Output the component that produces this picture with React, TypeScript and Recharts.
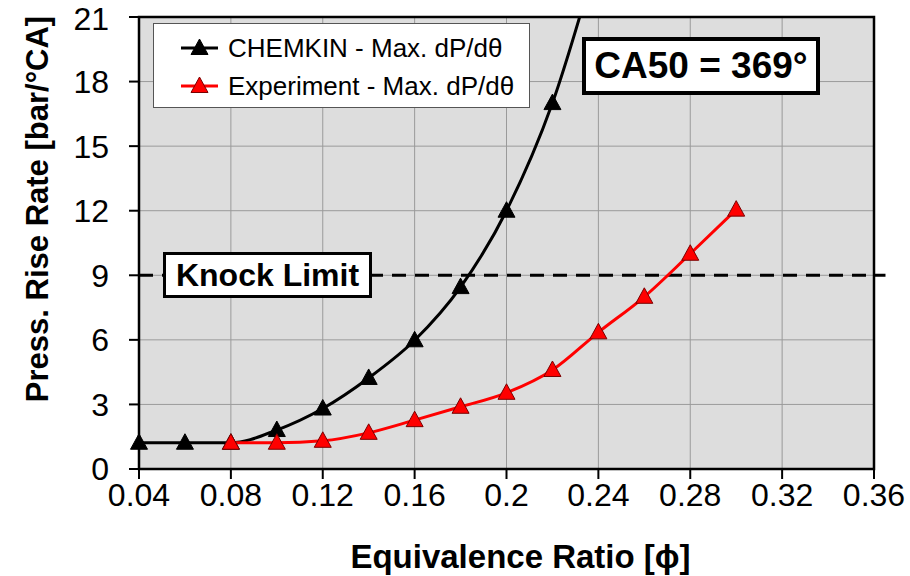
import {
  ComposedChart,
  Line,
  XAxis,
  YAxis,
  CartesianGrid,
  ReferenceLine,
  ReferenceArea,
} from "recharts";

const FONT = '"Liberation Sans", Arial, Helvetica, sans-serif';

// equivalence ratio sample points
const phiValues = [0.04, 0.06, 0.08, 0.1, 0.12, 0.14, 0.16, 0.18, 0.2, 0.22, 0.24, 0.26, 0.28, 0.3];

// max. pressure rise rate [bar/°CA]; null where the series has no point
const chemkinRate = [1.22, 1.22, 1.22, 1.81, 2.81, 4.23, 5.98, 8.45, 12.0, 17.0, 24.0, null, null, null];
const experimentRate = [null, null, 1.22, 1.22, 1.31, 1.68, 2.27, 2.89, 3.54, 4.6, 6.35, 8.0, 10.0, 12.05];

const xTicks = [0.04, 0.08, 0.12, 0.16, 0.2, 0.24, 0.28, 0.32, 0.36];
const yTicks = [0, 3, 6, 9, 12, 15, 18, 21];

const knockLimit = 9;
const seriesNames = ["CHEMKIN - Max. dP/dθ", "Experiment - Max. dP/dθ"];
const seriesColors = ["#000000", "#ff0000"];
const markerStrokes = ["#000000", "#7a0000"];

const data = phiValues.map((phi, i) => ({
  phi,
  chemkin: chemkinRate[i] ?? undefined,
  experiment: experimentRate[i] ?? undefined,
}));

const YMAX = 21;

function triangle(fill: string, stroke: string) {
  return (props: any) => {
    const { cx, cy, index, value } = props;
    if (cx == null || cy == null || value == null || value > YMAX) return <g key={index} />;
    return (
      <polygon
        key={index}
        points={`${cx},${cy - 9} ${cx - 8.5},${cy + 6.5} ${cx + 8.5},${cy + 6.5}`}
        fill={fill}
        stroke={stroke}
        strokeWidth={1}
      />
    );
  };
}

function YTitle(props: any) {
  const { viewBox } = props;
  const x = viewBox.x + 37;
  const y = viewBox.y + 192;
  return (
    <text
      x={x}
      y={y}
      transform={`rotate(-90 ${x} ${y})`}
      textAnchor="middle"
      dominantBaseline="central"
      fontFamily={FONT}
      fontWeight="bold"
      fontSize={31}
      fill="#000"
    >
      Press. Rise Rate [bar/°CA]
    </text>
  );
}

function XTitle(props: any) {
  const { viewBox } = props;
  return (
    <text
      x={viewBox.x + viewBox.width / 2 + 14}
      y={viewBox.y + 99}
      textAnchor="middle"
      fontFamily={FONT}
      fontWeight="bold"
      fontSize={33}
      fill="#000"
    >
      Equivalence Ratio [ϕ]
    </text>
  );
}

function LegendBox() {
  return (
    <div
      style={{
        position: "absolute",
        left: 153,
        top: 23,
        width: 377,
        height: 85,
        boxSizing: "border-box",
        background: "#fff",
        border: "1px solid #555",
        fontFamily: FONT,
        fontSize: 26,
        color: "#000",
      }}
    >
      {seriesNames.map((name, i) => (
        <div
          key={name}
          style={{ position: "absolute", left: 26, top: 9 + i * 38, height: 30, display: "flex", alignItems: "center" }}
        >
          <svg width={40} height={30} style={{ marginRight: 8 }}>
            <line x1={1} y1={15} x2={38} y2={15} stroke={seriesColors[i]} strokeWidth={3} />
            <polygon points="19.5,6 11,21.5 28,21.5" fill={seriesColors[i]} stroke={markerStrokes[i]} strokeWidth={1} />
          </svg>
          <span style={{ whiteSpace: "nowrap" }}>{name}</span>
        </div>
      ))}
    </div>
  );
}

function NoteBox(props: { left: number; top: number; width: number; height: number; border: number; size: number; text: string }) {
  const { left, top, width, height, border, size, text } = props;
  return (
    <div
      style={{
        position: "absolute",
        left,
        top,
        width,
        height,
        boxSizing: "border-box",
        background: "#fff",
        border: `${border}px solid #000`,
        fontFamily: FONT,
        fontWeight: "bold",
        fontSize: size,
        color: "#000",
        display: "flex",
        alignItems: "center",
        justifyContent: "center",
        whiteSpace: "nowrap",
      }}
    >
      {text}
    </div>
  );
}

export default function App() {
  return (
    <div style={{ position: "absolute", left: 0, top: 0, width: 910, height: 576, background: "#fff" }}>
      <ComposedChart
        width={910}
        height={576}
        data={data}
        margin={{ top: 17, right: 36, bottom: 0, left: 0 }}
      >
        <CartesianGrid fill="#dddddd" stroke="#9a9a9a" strokeWidth={1} />
        <XAxis
          dataKey="phi"
          type="number"
          domain={[0.04, 0.36]}
          ticks={xTicks}
          height={107}
          axisLine={false}
          tickSize={10}
          tickMargin={4}
          tickLine={{ stroke: "#000", strokeWidth: 2 }}
          tick={{ fontSize: 32, fill: "#000", fontFamily: FONT }}
          tickFormatter={(v: number) => String(Number(v.toFixed(2)))}
          label={<XTitle />}
        />
        <YAxis
          type="number"
          domain={[0, YMAX]}
          ticks={yTicks}
          allowDataOverflow
          width={139}
          axisLine={false}
          tickSize={10}
          tickMargin={20}
          tickLine={{ stroke: "#000", strokeWidth: 2 }}
          tick={{ fontSize: 32, fill: "#000", fontFamily: FONT }}
          label={<YTitle />}
        />
        <ReferenceLine
          segment={[{ x: 0.04, y: knockLimit }, { x: 0.365, y: knockLimit }]}
          stroke="#000"
          strokeWidth={3}
          strokeDasharray="14 9"
          ifOverflow="visible"
        />
        <Line
          type="monotone"
          dataKey="chemkin"
          stroke={seriesColors[0]}
          strokeWidth={3}
          dot={triangle(seriesColors[0], markerStrokes[0])}
          activeDot={false}
          isAnimationActive={false}
        />
        <Line
          type="monotone"
          dataKey="experiment"
          stroke={seriesColors[1]}
          strokeWidth={3}
          dot={triangle(seriesColors[1], markerStrokes[1])}
          activeDot={false}
          isAnimationActive={false}
        />
        <ReferenceArea
          x1={0.04}
          x2={0.36}
          y1={0}
          y2={YMAX}
          fill="none"
          fillOpacity={0}
          stroke="#000"
          strokeWidth={2.5}
          ifOverflow="visible"
        />
      </ComposedChart>
      <LegendBox />
      <NoteBox left={582} top={37} width={238} height={58} border={4} size={37} text="CA50 = 369°" />
      <NoteBox left={163} top={252} width={209} height={46} border={3.5} size={32} text="Knock Limit" />
    </div>
  );
}
